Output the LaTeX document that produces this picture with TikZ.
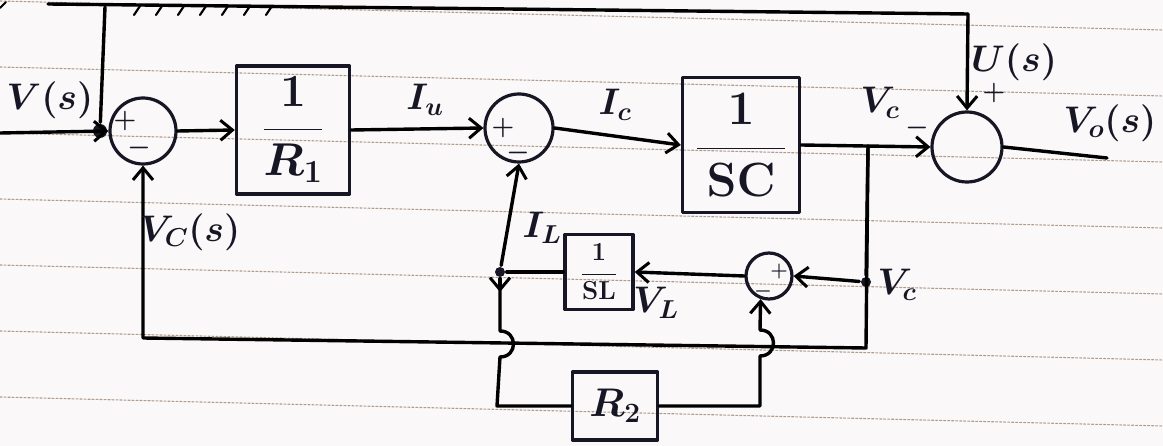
\RequirePackage{fix-cm}
\documentclass[tikz,border=0pt]{standalone}
\usetikzlibrary{arrows.meta}
\definecolor{ink}{RGB}{22,22,36}
\definecolor{paper}{RGB}{250,248,248}
\definecolor{ruling}{RGB}{175,155,140}
\begin{document}
\boldmath
\begin{tikzpicture}[x=1pt,y=-1pt,
  line width=3.4pt, line join=round, line cap=round,
  every node/.style={text=ink},
  sumj/.style={circle,draw=ink,line width=3.2pt,minimum size=#1,inner sep=0pt},
  sumj/.default=66pt,
  blk/.style={draw=ink,line width=3.4pt,rectangle,inner sep=0pt},
  lbl/.style={font=\fontsize{37}{40}\selectfont, inner sep=1pt},
  sgn/.style={font=\fontsize{26}{28}\selectfont, inner sep=0pt},
  ssgn/.style={font=\fontsize{20}{22}\selectfont, inner sep=0pt},
  dot/.style={circle,fill=ink,inner sep=0pt,minimum size=10pt},
  >={Straight Barb[length=12pt,width=20pt,line width=3pt]}
]
% paper and its ruled lines
\fill[paper] (0,0) rectangle (1163,446);
\useasboundingbox (0,0) rectangle (1163,446);
\foreach \yy in {1,67,133,199,265,331,397}
  \draw[ruling, line width=1.1pt, dash pattern=on 2pt off 2pt] (0,\yy) -- (1163,\yy+29);

% summing junctions
\node[sumj] (s1) at (143,131) {};
\node[sumj=68pt] (s2) at (519,128) {};
\node[sumj=70pt] (s3) at (967,147) {};
\node[sumj=46pt] (s4) at (769,276) {};

% transfer blocks
\node[blk, minimum width=113pt, minimum height=128pt, font=\fontsize{46}{50}\selectfont] (b1) at (293,130)
  {$\displaystyle\frac{1}{R_1}$};
\node[blk, minimum width=117pt, minimum height=135pt, font=\fontsize{48}{52}\selectfont] (b2) at (741,145)
  {$\displaystyle\frac{\mathbf{1}}{\,\mathbf{SC}\,}$};
\node[blk, minimum width=68pt, minimum height=75pt, font=\fontsize{26}{28}\selectfont] (b3) at (599,272)
  {$\displaystyle\frac{\mathbf{1}}{\mathbf{SL}}$};
\node[blk, minimum width=85pt, minimum height=68pt, font=\fontsize{40}{44}\selectfont] (b4) at (615,406)
  {$R_2$};

% branch points and corners
\coordinate (in) at (0,133);
\node[dot, minimum size=14pt] (tapV) at (100,131) {};
\coordinate (topV) at (105,7);
\coordinate (topS) at (48,4);
\coordinate (topR) at (968,14);
\coordinate (out) at (1107,158);
\coordinate (tapC) at (868,146);
\node[dot] (jC) at (866,282) {};
\coordinate (fbR) at (866,348);
\coordinate (fbL) at (143,338);
\node[dot] (jL) at (500,272) {};

% forward path
\draw[->] (in) -- (s1.west);
\draw[->] (s1.east) -- (b1.west);
\draw[->] (b1.east) -- (s2.west);
\draw[->] (s2.east) -- (b2.west);
\draw[->] (b2.east) -- (s3.west);
\draw (s3.east) -- (out);

% input carried over the top to the output junction
\draw (topS) -- (topR);
\draw[->] (topR) -- (s3.north);
\draw (tapV) -- (topV);
\draw[line width=2pt] (0,8) -- (6,2);
\foreach \xx in {140,162,184,206,228,250,272}
  \draw[line width=2.2pt] (\xx,6) -- (\xx-6,15);

% capacitor voltage fed back to the first junction
\draw[->] (tapC) -- (fbR) -- (fbL) -- (s1.south);
\draw[->] (tapC) -- (jC) -- (s4.east);

% inductor branch
\draw[->] (s4.west) -- (b3.east);
\draw (b3.west) -- (jL);
\draw[->] (jL) -- (s2.south);
\draw[->] (jL) -- ++(0,20);
\draw (jL) -- (500,331) .. controls (518,331) and (518,357) .. (500,357)
  -- (497,406) -- (b4.west);
\draw[->] (b4.east) -- (760,406) -- (760,356)
  .. controls (778,356) and (778,330) .. (760,330) -- (s4.-110);

% signs
\node[sgn] at (125,121) {$+$};
\node[sgn] at (139,148) {$-$};
\node[sgn] at (503,128) {$+$};
\node[sgn] at (518,153) {$-$};
\node[sgn] at (917,128) {$-$};
\node[sgn] at (994,93) {$+$};
\node[ssgn] at (779,272) {$+$};
\node[ssgn] at (763,292) {$-$};

% signal labels
\node[lbl] at (50,100) {$V(s)$};
\node[lbl] at (425,100) {$I_u$};
\node[lbl] at (615,105) {$I_c$};
\node[lbl] at (880,103) {$V_c$};
\node[lbl] at (1014,62) {$U(s)$};
\node[lbl] at (1110,123) {$V_o(s)$};
\node[lbl] at (190,232) {$V_C(s)$};
\node[lbl] at (542,228) {$I_L$};
\node[lbl] at (656,303) {$V_L$};
\node[lbl] at (897,285) {$V_c$};
\end{tikzpicture}
\end{document}
